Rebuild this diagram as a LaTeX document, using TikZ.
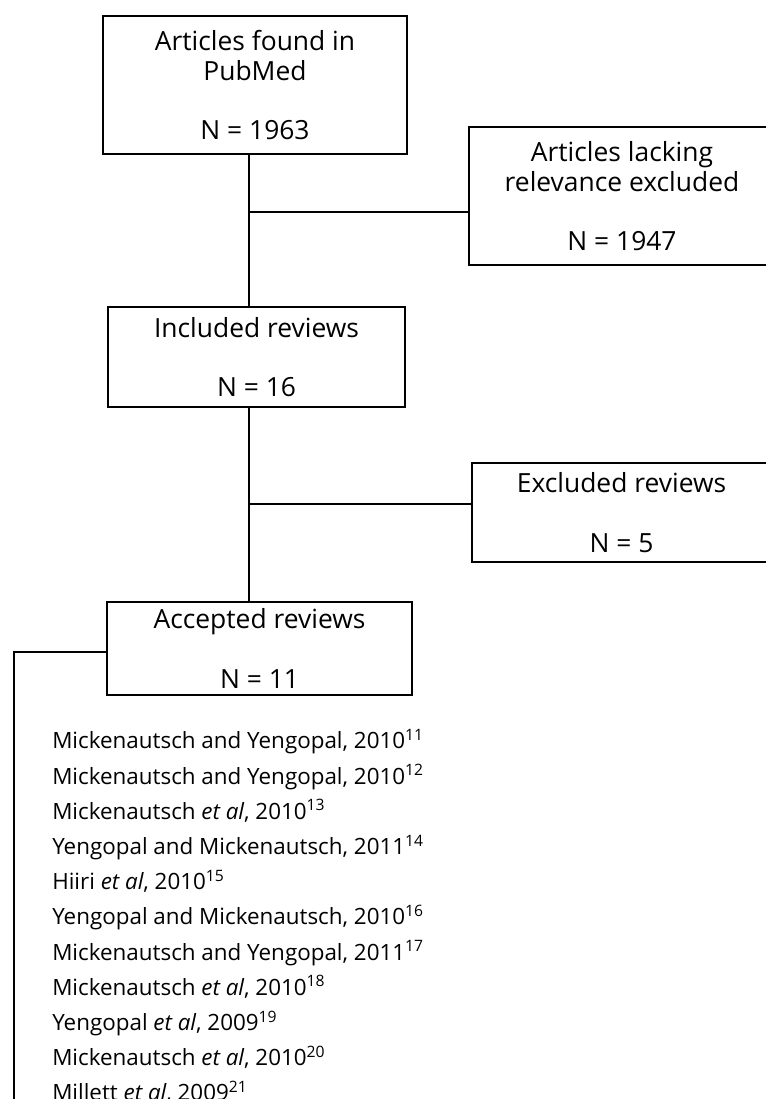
\documentclass[tikz,border=0pt]{standalone}
\usepackage{fontspec}
\setmainfont{Open Sans}
\usetikzlibrary{positioning}
\tikzset{
  stagebox/.style={
    rectangle,
    draw=black,
    line width=1.5pt,
    align=center,
    inner sep=0pt,
    font=\fontsize{19.8}{22.5}\selectfont
  },
  joinline/.style={
    draw=black,
    line width=1.5pt
  },
  reflist/.style={
    align=left,
    inner sep=0pt,
    anchor=north west,
    font=\fontsize{16.8}{26.4}\selectfont
  }
}

\begin{document}
\begin{tikzpicture}[x=0.75pt,y=-0.75pt]
\clip (0,0) rectangle (766,1099);
\node[stagebox, minimum width=228pt, minimum height=103.5pt] (found) at (255,85)
  {Articles found in\\PubMed\\[22pt]N = 1963};
\node[stagebox, minimum width=229.5pt, minimum height=103.5pt] (lacking) at (622,196)
  {Articles lacking\\relevance excluded\\[22pt]N = 1947};
\node[stagebox, minimum width=222.75pt, minimum height=75pt] (included) at (256.5,357)
  {Included reviews\\[22pt]N = 16};
\node[stagebox, minimum width=224.25pt, minimum height=74.25pt] (excluded) at (621.5,512.5)
  {Excluded reviews\\[22pt]N = 5};
\node[stagebox, minimum width=228.75pt, minimum height=69.75pt] (accepted) at (259.5,648.5)
  {Accepted reviews\\[22pt]N = 11};
\node[reflist] (refs) at (52,729) {%
  Mickenautsch and Yengopal, 2010\textsuperscript{11}\\
  Mickenautsch and Yengopal, 2010\textsuperscript{12}\\
  Mickenautsch \textit{et al}, 2010\textsuperscript{13}\\
  Yengopal and Mickenautsch, 2011\textsuperscript{14}\\
  Hiiri \textit{et al}, 2010\textsuperscript{15}\\
  Yengopal and Mickenautsch, 2010\textsuperscript{16}\\
  Mickenautsch and Yengopal, 2011\textsuperscript{17}\\
  Mickenautsch \textit{et al}, 2010\textsuperscript{18}\\
  Yengopal \textit{et al}, 2009\textsuperscript{19}\\
  Mickenautsch \textit{et al}, 2010\textsuperscript{20}\\
  Millett \textit{et al}, 2009\textsuperscript{21}};

% trunk and side branches
\coordinate (split1) at (249,212);
\coordinate (split2) at (249,504);
\coordinate (listbend) at (14,652);
\coordinate (listend) at (14,1110);
\draw[joinline] (found.south -| split1) -- (included.north -| split1);
\draw[joinline] (split1) -- (split1 -| lacking.west);
\draw[joinline] (included.south -| split2) -- (accepted.north -| split2);
\draw[joinline] (split2) -- (split2 -| excluded.west);
\draw[joinline] (listbend -| accepted.west) -- (listbend) -- (listend);
\end{tikzpicture}
\end{document}
